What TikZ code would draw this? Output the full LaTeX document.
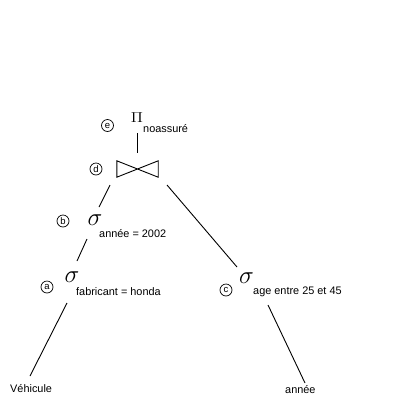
\documentclass[tikz,border=0pt]{standalone}
\usepackage{fontspec}
\setmainfont{Liberation Sans}
\begin{document}
\begin{tikzpicture}[x=1pt,y=-1pt,
  lbl/.style={font=\fontsize{10.9}{12}\selectfont, inner sep=0, anchor=base west},
  tag/.style={circle, draw, line width=0.7pt, minimum size=12pt, inner sep=0, font=\fontsize{9.5}{10}\selectfont},
  sig/.style={font=\fontsize{23}{23}\selectfont, inner sep=0},
  edge/.style={line width=0.9pt}]
\useasboundingbox[fill=white] (0,0) rectangle (402,400);
% operators
\node[inner sep=0, font=\fontsize{15}{15}\selectfont, xscale=1.15] (pi) at (137,117.5) {$\Pi$};
\node[lbl] (pisub) at (143,132) {noassuré};
\node[minimum width=41pt, minimum height=16pt, inner sep=0] (join) at (137.5,169) {};
\draw[edge] (join.north west) -- (join.south east) -- (join.north east) -- (join.south west) -- cycle;
\node[sig] (sb) at (95,220.5) {$\sigma$};
\node[lbl] (sbl) at (99,237) {année = 2002};
\node[sig] (sa) at (72,277.5) {$\sigma$};
\node[lbl] (sal) at (76,295) {fabricant = honda};
\node[sig] (sc) at (246.5,278.5) {$\sigma$};
\node[lbl] (scl) at (253,294) {age entre 25 et 45};
\node[lbl] (veh) at (10,392) {Véhicule};
\node[lbl] (ann) at (285,393) {année};
% tags
\node[tag] (te) at (107.5,125.5) {e};
\node[tag] (td) at (96,169) {d};
\node[tag] (tb) at (63,221) {b};
\node[tag] (ta) at (47,287) {a};
\node[tag] (tc) at (226,290) {c};
% connector end points
\coordinate (pi-b) at (137,133);
\coordinate (join-t) at (137,153);
\coordinate (join-l) at (110,185);
\coordinate (sb-t) at (99,207);
\coordinate (join-r) at (167,185);
\coordinate (sc-t) at (237,267);
\coordinate (sb-b) at (87,239);
\coordinate (sa-t) at (77,261);
\coordinate (sa-b) at (67,303);
\coordinate (veh-t) at (30,376);
\coordinate (sc-b) at (268,305);
\coordinate (ann-t) at (305,383);
\draw[edge] (pi-b) -- (join-t);
\draw[edge] (join-l) -- (sb-t);
\draw[edge] (join-r) -- (sc-t);
\draw[edge] (sb-b) -- (sa-t);
\draw[edge] (sa-b) -- (veh-t);
\draw[edge] (sc-b) -- (ann-t);
\end{tikzpicture}
\end{document}
